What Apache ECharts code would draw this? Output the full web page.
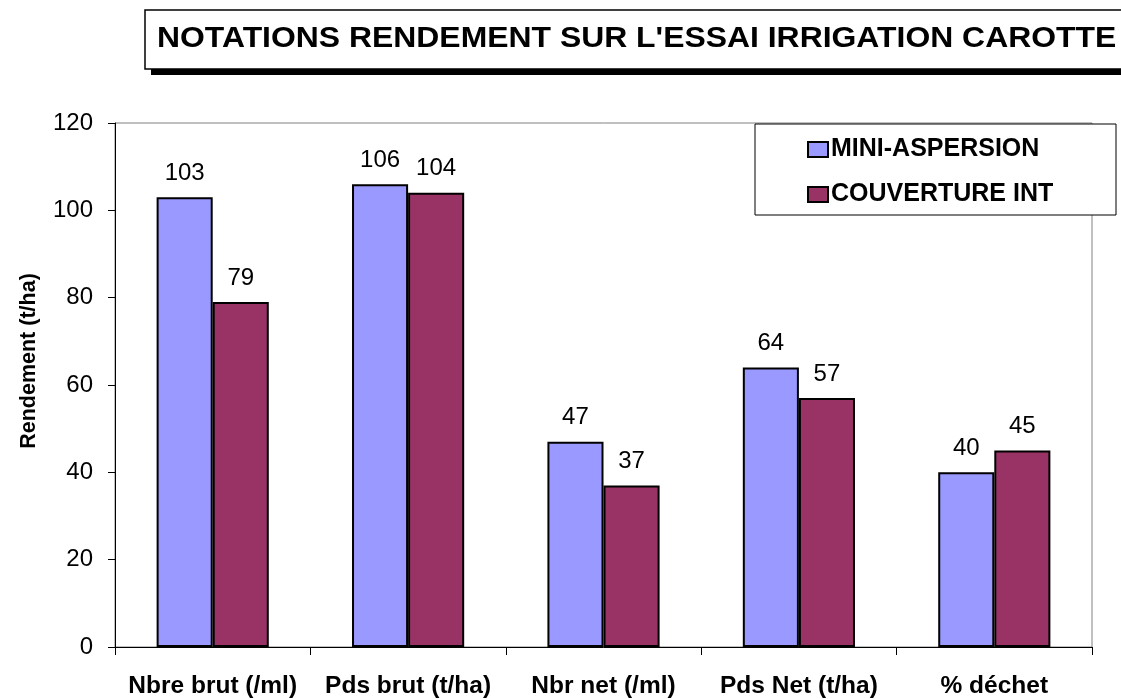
<!DOCTYPE html>
<html><head><meta charset="utf-8">
<script src="https://cdn.jsdelivr.net/npm/echarts@6/dist/echarts.min.js"></script>
<style>html,body{margin:0;padding:0;background:#fff}#c{width:1121px;height:699px}</style>
</head><body><div id="c"></div>
<script>
const categories = ['Nbre brut (/ml)', 'Pds brut (t/ha)', 'Nbr net (/ml)', 'Pds Net (t/ha)', '% déchet'];
const seriesNames = ['MINI-ASPERSION', 'COUVERTURE INT'];
const miniAspersion = [103, 106, 47, 64, 40];
const couvertureInt = [79, 104, 37, 57, 45];
const yMin = 0, yMax = 120, yInterval = 20;
const titleText = "NOTATIONS RENDEMENT SUR L'ESSAI IRRIGATION CAROTTE";
const yAxisTitle = 'Rendement (t/ha)';

const FF = '"Liberation Sans", Arial, sans-serif';
const chart = echarts.init(document.getElementById('c'), null, {renderer: 'canvas'});
chart.setOption({
  animation: false,
  backgroundColor: '#fff',
  textStyle: {fontFamily: FF},
  grid: {left: 115, right: 29, top: 123, bottom: 52, show: true, borderColor: '#808080', borderWidth: 1, backgroundColor: 'transparent'},
  legend: {
    data: seriesNames, orient: 'vertical', left: 807, top: 137, padding: 0, itemGap: 20,
    itemWidth: 20, itemHeight: 15, z: 10,
    itemStyle: {borderColor: '#000', borderWidth: 2},
    textStyle: {fontFamily: FF, fontWeight: 'bold', fontSize: 25, color: '#000', padding: [0, 0, 0, -2]},
    icon: 'rect'
  },
  xAxis: {
    type: 'category', data: categories,
    axisLine: {lineStyle: {color: '#000', width: 1}},
    axisTick: {show: true, length: 8, lineStyle: {color: '#000'}},
    axisLabel: {interval: 0, margin: 27, fontFamily: FF, fontWeight: 'bold', fontSize: 24.5, color: '#000'}
  },
  yAxis: {
    type: 'value', min: yMin, max: yMax, interval: yInterval,
    axisLine: {show: true, lineStyle: {color: '#000', width: 1}},
    axisTick: {show: true, length: 7, lineStyle: {color: '#000'}},
    splitLine: {show: false},
    axisLabel: {margin: 22, fontFamily: FF, fontSize: 24, color: '#000'}
  },
  series: [
    {name: seriesNames[0], type: 'bar', data: miniAspersion, barGap: '0%', barCategoryGap: '42.6%',
     itemStyle: {color: '#9999FF', borderColor: '#000', borderWidth: 2},
     label: {show: true, position: 'top', distance: 12, fontFamily: FF, fontSize: 24, color: '#000'}},
    {name: seriesNames[1], type: 'bar', data: couvertureInt, barGap: '0%', barCategoryGap: '42.6%',
     itemStyle: {color: '#993366', borderColor: '#000', borderWidth: 2},
     label: {show: true, position: 'top', distance: 12, fontFamily: FF, fontSize: 24, color: '#000'}}
  ],
  graphic: [
    {type: 'rect', z: 1, shape: {x: 151, y: 16, width: 1000, height: 59}, style: {fill: '#000'}},
    {type: 'rect', z: 2, shape: {x: 145, y: 10, width: 1000, height: 59}, style: {fill: '#fff', stroke: '#000', lineWidth: 1.5}},
    {type: 'text', z: 3, x: 157, y: 39, scaleX: 1.1, originX: 0, originY: 0,
     style: {text: titleText, font: 'bold 29px ' + FF, fill: '#000', verticalAlign: 'middle', align: 'left'}},
    {type: 'rect', z: 8, shape: {x: 755, y: 124, width: 361, height: 91}, style: {fill: '#fff', stroke: '#000', lineWidth: 1}},
    {type: 'text', z: 3, x: 29, y: 361, rotation: Math.PI / 2,
     style: {text: yAxisTitle, font: 'bold 21.5px ' + FF, fill: '#000', align: 'center', verticalAlign: 'middle'}}
  ]
});
</script></body></html>
